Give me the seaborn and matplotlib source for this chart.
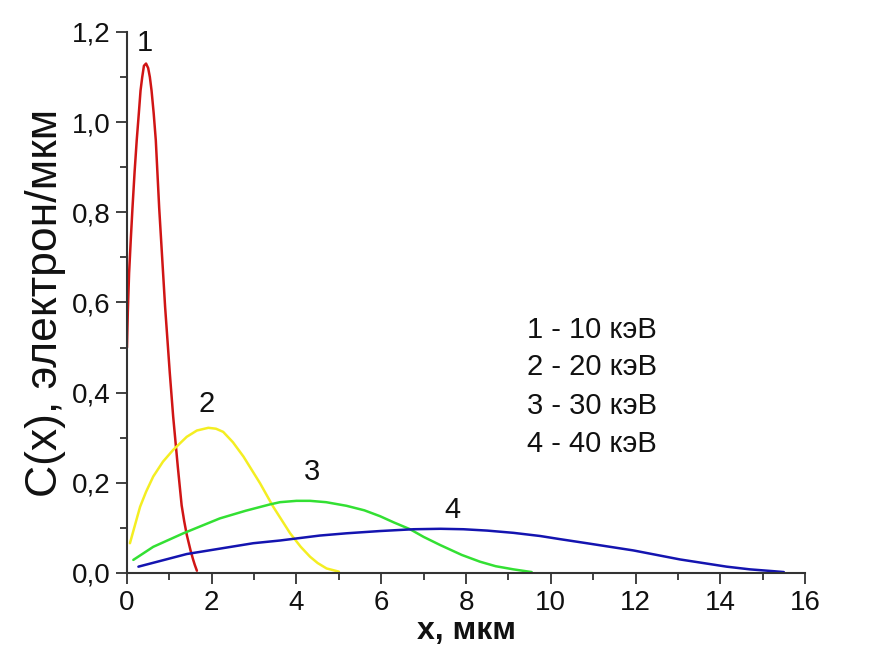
import matplotlib
matplotlib.use("Agg")
import matplotlib.pyplot as plt
from matplotlib.ticker import MultipleLocator, FuncFormatter
import seaborn as sns
import pandas as pd

# ---- data ----
x1 = [0.0, 0.02, 0.05, 0.09, 0.13, 0.18, 0.23, 0.28, 0.32, 0.36, 0.40, 0.45, 0.50, 0.54, 0.58, 0.63, 0.68, 0.76, 0.83, 0.90,
      1.01, 1.09, 1.20, 1.29, 1.35, 1.41, 1.50, 1.56, 1.60, 1.65]
y1 = [0.50, 0.58, 0.665, 0.74, 0.81, 0.89, 0.96, 1.02, 1.07, 1.10, 1.125, 1.13, 1.12, 1.10, 1.07, 1.02, 0.96, 0.81, 0.70, 0.59,
      0.444, 0.347, 0.235, 0.150, 0.115, 0.085, 0.050, 0.030, 0.018, 0.005]

x2 = [0.07, 0.2, 0.31, 0.45, 0.62, 0.85, 1.09, 1.41, 1.65, 1.92, 2.1, 2.27, 2.5, 2.75, 3.14, 3.45, 3.85, 4.1, 4.32, 4.5, 4.71, 5.0]
y2 = [0.066, 0.11, 0.147, 0.18, 0.214, 0.247, 0.273, 0.302, 0.316, 0.322, 0.32, 0.313, 0.29, 0.258, 0.199, 0.147, 0.088, 0.058,
      0.036, 0.022, 0.010, 0.003]

x3 = [0.15, 0.62, 1.33, 2.19, 2.8, 3.37, 3.61, 4.0, 4.32, 4.7, 5.18, 5.6, 5.97, 6.3, 6.68, 7.0, 7.39, 7.9, 8.33, 8.7, 9.12, 9.55]
y3 = [0.029, 0.058, 0.088, 0.121, 0.138, 0.152, 0.157, 0.160, 0.160, 0.157, 0.149, 0.139, 0.126, 0.112, 0.097, 0.080, 0.062,
      0.040, 0.025, 0.015, 0.008, 0.002]

x4 = [0.27, 1.41, 2.98, 3.61, 4.55, 5.18, 5.97, 6.76, 7.4, 7.94, 8.5, 9.12, 9.75, 10.22, 10.85, 11.95, 13.05, 14.15, 14.7,
      15.25, 15.5]
y4 = [0.014, 0.042, 0.066, 0.072, 0.083, 0.088, 0.093, 0.097, 0.098, 0.097, 0.094, 0.089, 0.082, 0.075, 0.066, 0.050, 0.030,
      0.014, 0.008, 0.004, 0.002]

curve_ids = ["1", "2", "3", "4"]
legend_lines = ["1 - 10 кэВ", "2 - 20 кэВ", "3 - 30 кэВ", "4 - 40 кэВ"]
x_ticks = [0, 2, 4, 6, 8, 10, 12, 14, 16]
y_ticks = [0.0, 0.2, 0.4, 0.6, 0.8, 1.0, 1.2]
x_label = "x, мкм"
y_label = "C(x), электрон/мкм"

colors = {"1": "#d01515", "2": "#f4ee22", "3": "#33e033", "4": "#1414b0"}

df = pd.concat([
    pd.DataFrame({"x": x1, "y": y1, "curve": "1"}),
    pd.DataFrame({"x": x2, "y": y2, "curve": "2"}),
    pd.DataFrame({"x": x3, "y": y3, "curve": "3"}),
    pd.DataFrame({"x": x4, "y": y4, "curve": "4"}),
], ignore_index=True)

sns.set_style("ticks")
plt.rcParams["font.family"] = ["Liberation Sans", "DejaVu Sans"]

fig = plt.figure(figsize=(8.83, 6.57), dpi=100)
ax = fig.add_axes([0.1438, 0.1279, 0.7679, 0.8234])

sns.lineplot(data=df, x="x", y="y", hue="curve", palette=colors,
             sort=False, estimator=None, legend=False, linewidth=1.8, ax=ax)

ax.set_xlim(0, 16)
ax.set_ylim(0, 1.2)
ax.set_xticks(x_ticks)
ax.set_yticks(y_ticks)
ax.xaxis.set_minor_locator(MultipleLocator(1))
ax.yaxis.set_minor_locator(MultipleLocator(0.1))
ax.yaxis.set_major_formatter(FuncFormatter(lambda v, p: f"{v:.1f}".replace(".", ",")))
ax.xaxis.set_major_formatter(FuncFormatter(lambda v, p: f"{v:.0f}"))

for s in ["top", "right"]:
    ax.spines[s].set_visible(False)
for s in ["left", "bottom"]:
    ax.spines[s].set_color("#333333")
    ax.spines[s].set_linewidth(1.5)

ax.tick_params(axis="both", which="major", direction="out", length=8, width=1.3,
               color="#333333", labelsize=20, pad=4, labelcolor="#111111")
ax.tick_params(axis="both", which="minor", direction="out", length=5, width=1.3,
               color="#333333")

ax.set_xlabel(x_label, fontsize=23, fontweight="bold", color="#111111", labelpad=0)
ax.set_ylabel(y_label, fontsize=32, color="#111111", labelpad=4)

# curve number labels
label_pos = {"1": (0.42, 1.175), "2": (1.89, 0.375), "3": (4.37, 0.225), "4": (7.67, 0.14)}
for cid in curve_ids:
    px, py = label_pos[cid]
    ax.text(px, py, cid, fontsize=21, ha="center", va="center", color="#111111")

# legend text block
legend_y = [0.54, 0.457, 0.37, 0.286]
for txt, ly in zip(legend_lines, legend_y):
    ax.text(9.45, ly, txt, fontsize=21, ha="left", va="center", color="#111111")

fig.savefig("out.png", dpi=100)
